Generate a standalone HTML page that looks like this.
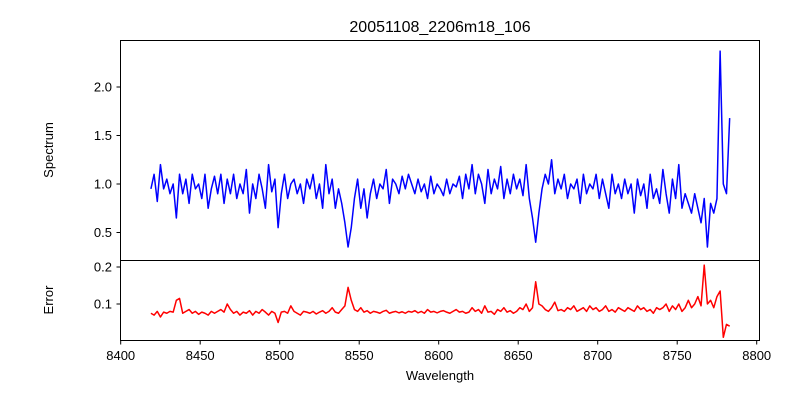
<!DOCTYPE html>
<html><head><meta charset="utf-8"><style>
body{margin:0;background:#fff}
text{font-family:"Liberation Sans","DejaVu Sans",sans-serif;fill:#000}
</style></head><body>
<svg id="chart" width="800" height="400" viewBox="0 0 800 400">
<text x="440" y="32" font-size="16" text-anchor="middle">20051108_2206m18_106</text>
<g id="topPanel"></g>
<g id="botPanel"></g>
<text transform="translate(53,150) rotate(-90)" font-size="13" text-anchor="middle">Spectrum</text>
<text transform="translate(53,300) rotate(-90)" font-size="13" text-anchor="middle">Error</text>
<text x="440" y="380" font-size="13" text-anchor="middle">Wavelength</text>
</svg>
<script>
const waveStart = 8419;
const waveStep = 2;
const spectrum = [
0.95,1.1,0.82,1.2,0.95,1.05,0.9,1.0,0.65,1.1,
0.9,1.05,0.8,1.1,0.95,1.0,0.85,1.1,0.75,0.95,
1.08,0.9,1.1,0.8,1.05,0.9,1.1,0.85,1.0,0.9,
1.15,0.7,1.0,0.85,1.1,0.95,0.75,1.2,0.92,1.05,
0.55,0.9,1.1,0.85,1.0,1.05,0.9,1.0,0.8,1.05,
0.95,1.1,0.85,1.0,0.75,1.2,0.9,1.05,0.75,0.95,
0.8,0.6,0.35,0.55,0.85,1.05,0.75,0.95,0.65,0.9,
1.05,0.85,1.0,0.95,1.15,0.8,1.05,1.0,0.9,1.08,
0.95,1.1,1.0,0.9,1.05,0.92,1.0,0.85,1.08,0.9,
1.0,0.95,0.88,1.05,0.9,1.0,0.97,1.08,0.85,1.1,
0.95,1.2,0.9,1.1,1.0,0.8,1.15,0.9,1.05,0.95,
1.18,0.85,1.05,0.9,1.1,0.95,1.05,0.88,1.2,0.85,
0.65,0.4,0.7,0.95,1.1,1.0,1.25,0.9,1.05,0.95,
1.1,0.85,1.0,0.95,1.05,0.8,1.1,0.9,1.0,0.95,
1.1,0.85,1.05,0.9,0.75,1.1,0.9,1.0,0.85,1.05,
0.9,1.0,0.7,1.05,0.88,1.0,0.75,1.1,0.85,0.95,
0.8,1.15,0.9,0.7,1.05,0.85,1.2,0.75,0.9,0.8,
0.7,0.9,0.75,0.6,0.85,0.35,0.8,0.7,0.85,2.37,
1.0,0.9,1.68];
const errors = [
.075,.07,.08,.065,.078,.075,.08,.078,.11,.115,
.075,.08,.085,.075,.08,.072,.078,.075,.07,.08,
.075,.08,.085,.078,.1,.085,.075,.08,.07,.078,
.075,.082,.07,.08,.075,.085,.078,.07,.08,.075,
.05,.078,.08,.075,.095,.08,.075,.07,.08,.078,
.075,.08,.073,.078,.082,.075,.08,.09,.078,.075,
.085,.095,.145,.11,.085,.08,.09,.078,.082,.075,
.08,.078,.075,.08,.083,.075,.078,.08,.076,.079,
.075,.08,.078,.082,.076,.08,.075,.085,.078,.08,
.076,.08,.082,.078,.075,.08,.085,.078,.08,.075,
.078,.09,.08,.085,.075,.095,.078,.08,.072,.085,
.08,.09,.078,.082,.075,.08,.09,.085,.1,.08,
.09,.16,.1,.095,.085,.08,.09,.105,.082,.085,
.08,.09,.085,.095,.08,.085,.09,.08,.095,.085,
.09,.08,.085,.095,.08,.085,.078,.09,.085,.08,
.09,.085,.08,.095,.085,.09,.08,.085,.075,.09,
.085,.09,.1,.08,.095,.085,.1,.08,.09,.11,
.09,.1,.12,.095,.205,.1,.11,.09,.12,.135,
.01,.045,.04];
const xTicks = [8400,8450,8500,8550,8600,8650,8700,8750,8800];
const topTicks = [0.5,1.0,1.5,2.0];
const botTicks = [0.1,0.2];

const NS='http://www.w3.org/2000/svg';
const xs = w => 120.7+(w-8400)*1.59;
const yTop = v => 184-97*(v-1);
const yBot = v => 341-370*v;
function mk(tag,attrs,parent){const e=document.createElementNS(NS,tag);for(const k in attrs)e.setAttribute(k,attrs[k]);parent.appendChild(e);return e;}
const topG=document.getElementById('topPanel'), botG=document.getElementById('botPanel');

let d='';spectrum.forEach((v,i)=>{d+=(i?'L':'M')+xs(waveStart+i*waveStep).toFixed(2)+','+yTop(v).toFixed(2);});
const sp=mk('path',{d:d,fill:'none',stroke:'#0000ff','stroke-width':1.5,'stroke-linejoin':'round'},topG);


d='';errors.forEach((v,i)=>{d+=(i?'L':'M')+xs(waveStart+i*waveStep).toFixed(2)+','+yBot(v).toFixed(2);});
const ep=mk('path',{d:d,fill:'none',stroke:'#ff0000','stroke-width':1.5,'stroke-linejoin':'round'},botG);



const f1=mk('rect',{x:120.5,y:40.5,width:639,height:220,fill:'none',stroke:'#000','stroke-width':1},topG);


const f2=mk('rect',{x:120.5,y:260.5,width:639,height:80,fill:'none',stroke:'#000','stroke-width':1},botG);



topTicks.forEach(t=>{const y=yTop(t);
 mk('line',{x1:116.5,x2:120.5,y1:y,y2:y,stroke:'#000'},topG);
 const tx=mk('text',{x:112,y:y+4.5,'font-size':13,'text-anchor':'end'},topG);tx.textContent=t.toFixed(1);
 
 });
botTicks.forEach(t=>{const y=yBot(t);
 mk('line',{x1:116.5,x2:120.5,y1:y,y2:y,stroke:'#000'},botG);
 const tx=mk('text',{x:112,y:y+4.5,'font-size':13,'text-anchor':'end'},botG);tx.textContent=t.toFixed(1);
 
 });
xTicks.forEach(t=>{const x=xs(t);
 mk('line',{x1:x,x2:x,y1:340.5,y2:344.5,stroke:'#000'},botG);
 const tx=mk('text',{x:x,y:360,'font-size':13,'text-anchor':'middle'},botG);tx.textContent=t;
 
 });
</script>
</body></html>
